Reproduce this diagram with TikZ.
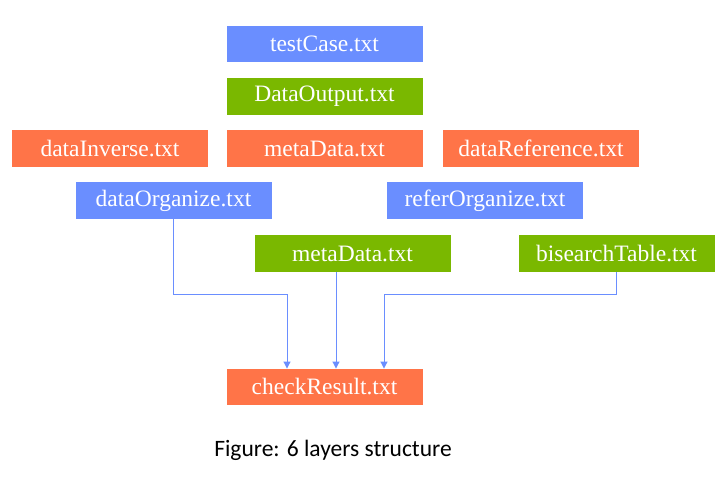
\documentclass[tikz,border=0pt]{standalone}
\usepackage{fontspec}
\setmainfont{Liberation Serif}
\newfontfamily\capfont{Carlito}
\usetikzlibrary{arrows.meta}
\definecolor[named]{FileBlue}{RGB}{106,142,255}
\definecolor[named]{FileGreen}{RGB}{122,184,0}
\definecolor[named]{FileOrange}{RGB}{255,116,72}
\tikzset{
  file/.style={rectangle,minimum width=196pt,minimum height=36.5pt,
    inner sep=0pt,text=white,font=\fontsize{23.5}{23.5}\selectfont},
  bluefile/.style={file,fill=FileBlue},
  greenfile/.style={file,fill=FileGreen},
  orangefile/.style={file,fill=FileOrange},
  link/.style={draw=FileBlue,line width=1pt,-{Triangle[width=7pt,length=7pt]}}
}

\begin{document}
\begin{tikzpicture}[x=1pt,y=-1pt]
  \useasboundingbox (0,0) rectangle (727,476);
  % layers, top to bottom
  \node[bluefile]   (test)   at (324.5,44)    {testCase.txt};
  \node[greenfile]  (output) at (324.5,96.5)  {DataOutput.txt};
  \node[orangefile] (inv)    at (110,148.5)   {dataInverse.txt};
  \node[orangefile] (meta)   at (324.5,148.5) {metaData.txt};
  \node[orangefile] (ref)    at (541,148.5)   {dataReference.txt};
  \node[bluefile]   (dorg)   at (173.5,200.5) {dataOrganize.txt};
  \node[bluefile]   (rorg)   at (485,200.5)   {referOrganize.txt};
  \node[greenfile]  (metag)  at (352.5,253.5) {metaData.txt};
  \node[greenfile]  (bis)    at (616.5,253.5) {bisearchTable.txt};
  \node[orangefile] (check)  at (324.5,387)   {checkResult.txt};
  \node[font=\capfont\fontsize{23.5}{23.5}\selectfont] (cap) at (333,450)
    {Figure: 6 layers structure};
  % links into checkResult
  \coordinate (lin) at (287,294);
  \coordinate (min) at (336,294);
  \coordinate (rin) at (384,294);
  \draw[link] (dorg.south) |- (lin) -- (lin |- check.north);
  \draw[link] (min |- metag.south) -- (min |- check.north);
  \draw[link] (bis.south) |- (rin) -- (rin |- check.north);
\end{tikzpicture}
\end{document}
